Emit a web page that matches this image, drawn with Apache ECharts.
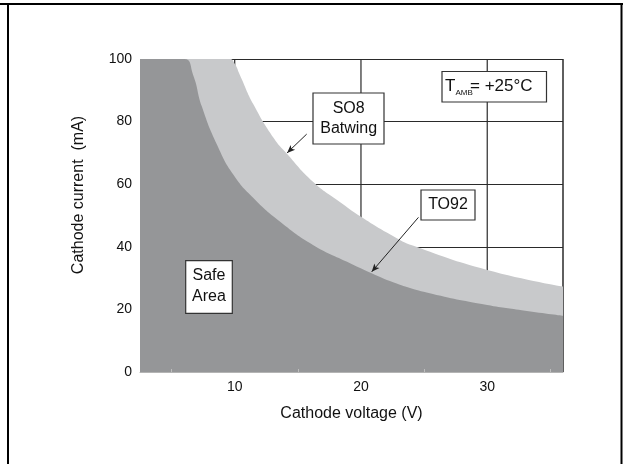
<!DOCTYPE html>
<html>
<head>
<meta charset="utf-8">
<script src="https://cdn.jsdelivr.net/npm/echarts@6/dist/echarts.min.js"></script>
<style>
html,body{margin:0;padding:0;background:#fff;}
#c{width:623px;height:464px;}
</style>
</head>
<body>
<div id="c"></div>
<script>
// Axis ticks
const xTickValues = [10, 20, 30];
const xMinorTickValues = [5, 15, 25, 35];
const xMin = 2.5, xMax = 36;
const yMin = 0, yMax = 100, yStep = 20;

// TO92 safe operating boundary (cathode voltage V, cathode current mA)
const to92Voltage = [2.5, 6.0, 6.7, 7.4, 8.6, 9.9, 11.5, 13.6, 16.2, 18.9, 20.8, 22.6, 25.2, 30.0, 33.0, 36.0];
const to92Current = [100, 100, 95, 84.8, 72.6, 63.0, 55.5, 48.0, 40.6, 35.2, 31.6, 28.6, 25.4, 21.4, 19.6, 18.0];

// SO8 Batwing boundary
const so8Voltage = [2.5, 9.6, 10.0, 10.4, 11.5, 13.1, 14.1, 16.2, 18.3, 20.0, 22.6, 24.1, 30.0, 36.0];
const so8Current = [100, 100, 98.5, 95, 85.4, 74.7, 69.9, 60.8, 54.4, 49.6, 43.3, 40.4, 32.6, 27.3];

const pair = (xs, ys) => xs.map((x, i) => [x, ys[i]]);
const FONT = '"Liberation Sans", Arial, Helvetica, sans-serif';
const GRID_COLOR = '#2a2a2a';

const gridSeries = xTickValues.concat([xMax]).map(v => ({
  type: 'line', silent: true, z: 1, symbol: 'none', animation: false,
  data: [[v, yMin], [v, yMax]],
  lineStyle: { color: GRID_COLOR, width: v === xMax ? 1.5 : 1.2 }
}));

function box(x, y, w, h) {
  return { type: 'rect', z: 20, shape: { x: x, y: y, width: w, height: h },
    style: { fill: '#fff', stroke: '#333', lineWidth: 1.2 } };
}
function txt(x, y, s, size, align) {
  return { type: 'text', z: 21, x: x, y: y,
    style: { text: s, font: size + 'px ' + FONT, fill: '#111',
      textAlign: align || 'center', textVerticalAlign: 'middle' } };
}

const chart = echarts.init(document.getElementById('c'), null, { renderer: 'canvas' });
chart.setOption({
  animation: false,
  backgroundColor: '#fff',
  grid: { left: 140, top: 59, width: 423, height: 313, containLabel: false },
  xAxis: {
    type: 'value', min: xMin, max: xMax, z: 6,
    name: 'Cathode voltage (V)', nameLocation: 'middle', nameGap: 34,
    nameTextStyle: { fontFamily: FONT, fontSize: 16, color: '#111' },
    axisLine: { show: true, lineStyle: { color: '#b4b4b4', width: 1 } },
    axisTick: { show: true, inside: true, length: 3, customValues: xMinorTickValues,
      lineStyle: { color: '#bdbdbd', width: 1 } },
    axisLabel: { customValues: xTickValues, fontFamily: FONT, fontSize: 14, color: '#111', margin: 8 },
    splitLine: { show: false }
  },
  yAxis: {
    type: 'value', min: yMin, max: yMax, interval: yStep,
    axisLine: { show: false }, axisTick: { show: false },
    axisLabel: { fontFamily: FONT, fontSize: 14, color: '#111', margin: 8 },
    splitLine: { show: true, lineStyle: { color: GRID_COLOR, width: 1.2 } }
  },
  series: gridSeries.concat([
    {
      name: 'SO8 Batwing', type: 'line', z: 2, symbol: 'none', smooth: 0.5,
      data: pair(so8Voltage, so8Current),
      lineStyle: { width: 0 },
      areaStyle: { color: '#c8c9cb', opacity: 1 }
    },
    {
      name: 'TO92', type: 'line', z: 3, symbol: 'none', smooth: 0.5,
      data: pair(to92Voltage, to92Current),
      lineStyle: { width: 0 },
      areaStyle: { color: '#959698', opacity: 1 },
      markLine: {
        silent: true, symbol: ['none', 'arrow'], symbolSize: [5, 8],
        label: { show: false },
        lineStyle: { color: '#222', width: 1, type: 'solid' },
        data: [
          [{ coord: [15.7, 76.0] }, { coord: [14.15, 70.0] }],
          [{ coord: [24.55, 49.4] }, { coord: [20.85, 32.0] }]
        ]
      }
    }
  ]),
  graphic: [
    { type: 'line', z: 30, shape: { x1: 0, y1: 4, x2: 623, y2: 4 }, style: { stroke: '#000', lineWidth: 2 } },
    { type: 'line', z: 30, shape: { x1: 8, y1: 4, x2: 8, y2: 464 }, style: { stroke: '#000', lineWidth: 2 } },
    { type: 'line', z: 30, shape: { x1: 621.5, y1: 4, x2: 621.5, y2: 464 }, style: { stroke: '#000', lineWidth: 2 } },
    { type: 'text', z: 21, x: 79, y: 195, rotation: Math.PI / 2,
      style: { text: 'Cathode current  (mA)', font: '16px ' + FONT, fill: '#111',
        textAlign: 'center', textVerticalAlign: 'middle' } },
    box(313, 93, 71, 51),
    txt(348.7, 108.5, 'SO8', 16),
    txt(348.7, 128.5, 'Batwing', 16),
    box(442, 71.5, 104.5, 30.5),
    txt(445, 86.5, 'T', 17, 'left'),
    txt(455.5, 93, 'AMB', 8, 'left'),
    txt(470, 86.5, '= +25°C', 17, 'left'),
    box(421, 190, 54, 30),
    txt(448, 204.5, 'TO92', 16),
    box(185.7, 260.7, 46.6, 52.6),
    txt(209, 276, 'Safe', 16),
    txt(209, 296.5, 'Area', 16)
  ]
});
</script>
</body>
</html>
